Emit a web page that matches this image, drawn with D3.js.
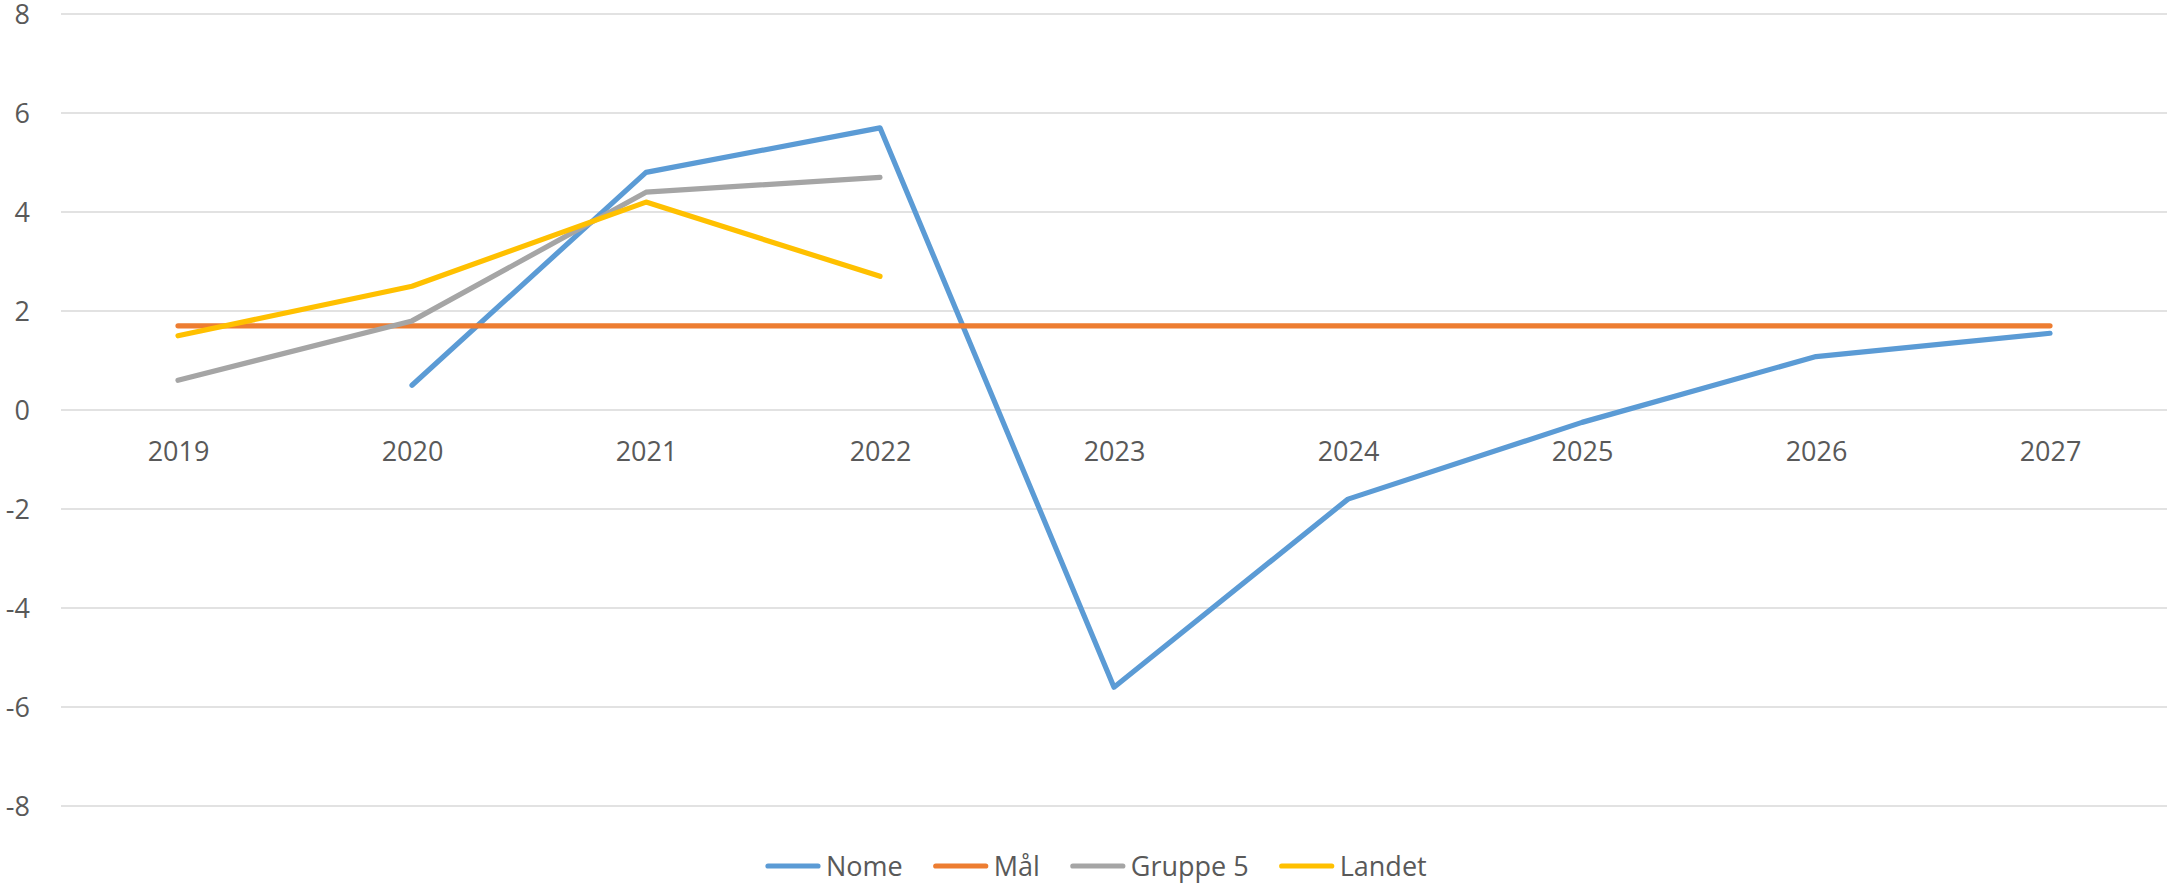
<!DOCTYPE html>
<html>
<head>
<meta charset="utf-8">
<script src="https://cdn.jsdelivr.net/npm/d3@7"></script>
<style>
  html, body { margin: 0; padding: 0; background: #ffffff; }
  svg { display: block; }
  text { font-family: "Open Sans", "Noto Sans", sans-serif; fill: #595959; }
</style>
</head>
<body>
<svg id="chart" width="2168" height="887"></svg>
<script>
// ---- data ----
const categories = ["2019", "2020", "2021", "2022", "2023", "2024", "2025", "2026", "2027"];
const nome    = [null, 0.5, 4.8, 5.7, -5.6, -1.8, -0.25, 1.08, 1.55];
const maal    = [1.7, 1.7, 1.7, 1.7, 1.7, 1.7, 1.7, 1.7, 1.7];
const gruppe5 = [0.6, 1.8, 4.4, 4.7, null, null, null, null, null];
const landet  = [1.5, 2.5, 4.2, 2.7, null, null, null, null, null];
const seriesNames = ["Nome", "Mål", "Gruppe 5", "Landet"];
const yTicks = [-8, -6, -4, -2, 0, 2, 4, 6, 8];

const seriesValues = [nome, maal, gruppe5, landet];
const colors = ["#5B9BD5", "#ED7D31", "#A5A5A5", "#FFC000"];

// ---- layout ----
const svg = d3.select("#chart");
const plotLeft = 61, plotRight = 2167, plotTop = 14, plotBottom = 806;

const x = d3.scalePoint().domain(categories).range([plotLeft, plotRight]).padding(0.5);
const y = d3.scaleLinear().domain([-8, 8]).range([plotBottom, plotTop]);

// gridlines
svg.append("g")
  .selectAll("line")
  .data(yTicks)
  .join("line")
  .attr("x1", plotLeft).attr("x2", plotRight)
  .attr("y1", d => y(d)).attr("y2", d => y(d))
  .attr("stroke", "#D9D9D9")
  .attr("stroke-width", 1.4);

// y axis labels (plain hyphen minus like the reference)
const yAxis = d3.axisLeft(y).tickValues(yTicks).tickSize(0).tickPadding(0).tickFormat(d => String(d));
const yg = svg.append("g").attr("transform", "translate(30,0)").call(yAxis);
yg.select(".domain").remove();
yg.selectAll("text")
  .attr("font-size", 27)
  .attr("font-family", "'Open Sans', 'Noto Sans', sans-serif")
  .attr("fill", "#595959")
  .attr("text-anchor", "end")
  .attr("dy", "0.35em")
  .attr("x", 0);

// x axis labels (placed just below the zero line)
const xAxis = d3.axisBottom(x).tickSize(0).tickPadding(0);
const xg = svg.append("g").attr("transform", `translate(0,${y(0)})`).call(xAxis);
xg.select(".domain").remove();
xg.selectAll("text")
  .attr("font-size", 27)
  .attr("font-family", "'Open Sans', 'Noto Sans', sans-serif")
  .attr("fill", "#595959")
  .attr("dy", null)
  .attr("y", 51);

// lines
const line = d3.line()
  .defined(d => d.v !== null)
  .x(d => x(d.c))
  .y(d => y(d.v));

seriesValues.forEach((vals, i) => {
  const pts = categories.map((c, j) => ({ c: c, v: vals[j] }));
  svg.append("path")
    .datum(pts)
    .attr("d", line)
    .attr("fill", "none")
    .attr("stroke", colors[i])
    .attr("stroke-width", 5.2)
    .attr("stroke-linecap", "round")
    .attr("stroke-linejoin", "round");
});

// legend
const legend = svg.append("g");
const legendY = 866;
let cursor = 766;
seriesNames.forEach((name, i) => {
  const g = legend.append("g");
  g.append("line")
    .attr("x1", cursor + 2).attr("x2", cursor + 52)
    .attr("y1", legendY).attr("y2", legendY)
    .attr("stroke", colors[i])
    .attr("stroke-width", 5.2)
    .attr("stroke-linecap", "round");
  const t = g.append("text")
    .attr("x", cursor + 60)
    .attr("y", legendY + 10)
    .attr("font-size", 27)
    .text(name);
  const w = t.node().getComputedTextLength();
  cursor = cursor + 60 + w + 31;
});
</script>
</body>
</html>
